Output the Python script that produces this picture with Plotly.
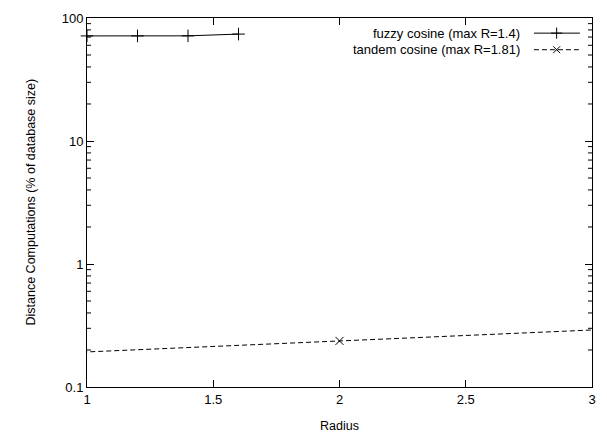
import plotly.graph_objects as go

# ---- data ----
fuzzy_radius = [1.0, 1.2, 1.4, 1.6]
fuzzy_dist = [71.5, 71.5, 71.6, 74.0]
tandem_radius = [0.0, 2.0, 4.0]
tandem_dist = [0.157, 0.237, 0.357]

fuzzy_name = "fuzzy cosine (max R=1.4)"
tandem_name = "tandem cosine (max R=1.81)"
x_title = "Radius"
y_title = "Distance Computations (% of database size)"
x_ticks = [1, 1.5, 2, 2.5, 3]
x_tick_labels = ["1", "1.5", "2", "2.5", "3"]
y_ticks = [0.1, 1, 10, 100]
y_tick_labels = ["0.1", "1", "10", "100"]
y_minor_ticks = [m * d for d in (0.1, 1, 10) for m in range(2, 10)]

FONT = "Liberation Sans, Arial, Helvetica, sans-serif"
FS = 13
X_MIN, X_MAX = 1, 3
MINOR_LEN = 0.016  # in x data units (~4 px)

fig = go.Figure()

fig.add_trace(go.Scatter(
    x=fuzzy_radius, y=fuzzy_dist, mode="lines+markers", name=fuzzy_name,
    line=dict(color="black", width=1),
    marker=dict(symbol="cross-thin-open", size=9, color="black",
                line=dict(color="black", width=1)),
    cliponaxis=False, showlegend=False,
))
fig.add_trace(go.Scatter(
    x=tandem_radius, y=tandem_dist, mode="lines+markers", name=tandem_name,
    line=dict(color="black", width=1, dash="5px,3px"),
    marker=dict(symbol="x-thin-open", size=8, color="black",
                line=dict(color="black", width=1)),
    showlegend=False,
))

# ---- minor log ticks on left and right borders ----
for v in y_minor_ticks:
    for x0, x1 in [(X_MIN, X_MIN + MINOR_LEN), (X_MAX - MINOR_LEN, X_MAX)]:
        fig.add_shape(type="line", xref="x", yref="y", x0=x0, x1=x1, y0=v, y1=v,
                      line=dict(color="black", width=1), layer="above")

# ---- gnuplot-style legend (text right-aligned, sample on the right) ----
leg_text_x = 0.862
leg_line_x = [0.885, 0.976]
leg_mark_x = 0.930
leg_rows_y = [0.959, 0.914]
for name, yy, dash, sym, ms in [
    (fuzzy_name, leg_rows_y[0], "solid", "cross-thin-open", 8),
    (tandem_name, leg_rows_y[1], "5px,3px", "x-thin-open", 7),
]:
    fig.add_trace(go.Scatter(
        x=leg_line_x, y=[yy, yy], mode="lines", xaxis="x2", yaxis="y2",
        line=dict(color="black", width=1, dash=dash), showlegend=False, hoverinfo="skip",
    ))
    fig.add_trace(go.Scatter(
        x=[leg_mark_x], y=[yy], mode="markers", xaxis="x2", yaxis="y2",
        marker=dict(symbol=sym, size=ms, color="black", line=dict(color="black", width=1)),
        showlegend=False, hoverinfo="skip",
    ))
    fig.add_annotation(
        x=leg_text_x, y=yy, xref="x2", yref="y2", text=name, showarrow=False,
        xanchor="right", yanchor="middle", font=dict(family=FONT, size=FS, color="black"),
    )

# ---- axis titles ----
fig.add_annotation(x=0.5, y=0, xref="paper", yref="paper", yshift=-39, text=x_title,
                   showarrow=False, xanchor="center", yanchor="middle",
                   font=dict(family=FONT, size=12.5, color="black"))
fig.add_annotation(x=0, y=0.5, xref="paper", yref="paper", xshift=-57, text=y_title,
                   textangle=-90, showarrow=False, xanchor="center", yanchor="middle",
                   font=dict(family=FONT, size=12.5, color="black"))

fig.update_layout(
    width=607, height=434,
    margin=dict(l=87, r=15, t=18, b=47),
    paper_bgcolor="white", plot_bgcolor="white",
    font=dict(family=FONT, size=FS, color="black"),
    showlegend=False,
    xaxis=dict(
        range=[X_MIN, X_MAX], tickmode="array", tickvals=x_ticks, ticktext=x_tick_labels,
        ticks="inside", ticklen=7, tickwidth=1, tickcolor="black",
        showline=True, linecolor="black", linewidth=1, mirror="allticks",
        showgrid=False, zeroline=False, automargin=False,
        tickfont=dict(size=FS),
    ),
    yaxis=dict(
        type="log", range=[-1, 2], tickmode="array", tickvals=y_ticks, ticktext=y_tick_labels,
        ticks="inside", ticklen=7, tickwidth=1, tickcolor="black",
        showline=True, linecolor="black", linewidth=1, mirror="allticks",
        showgrid=False, zeroline=False, automargin=False,
        tickfont=dict(size=FS),
    ),
    xaxis2=dict(overlaying="x", range=[0, 1], visible=False, fixedrange=True),
    yaxis2=dict(overlaying="y", range=[0, 1], visible=False, fixedrange=True),
)

fig.write_html("out.html", post_script="document.body.style.margin='0';",
               config={"displayModeBar": False})
